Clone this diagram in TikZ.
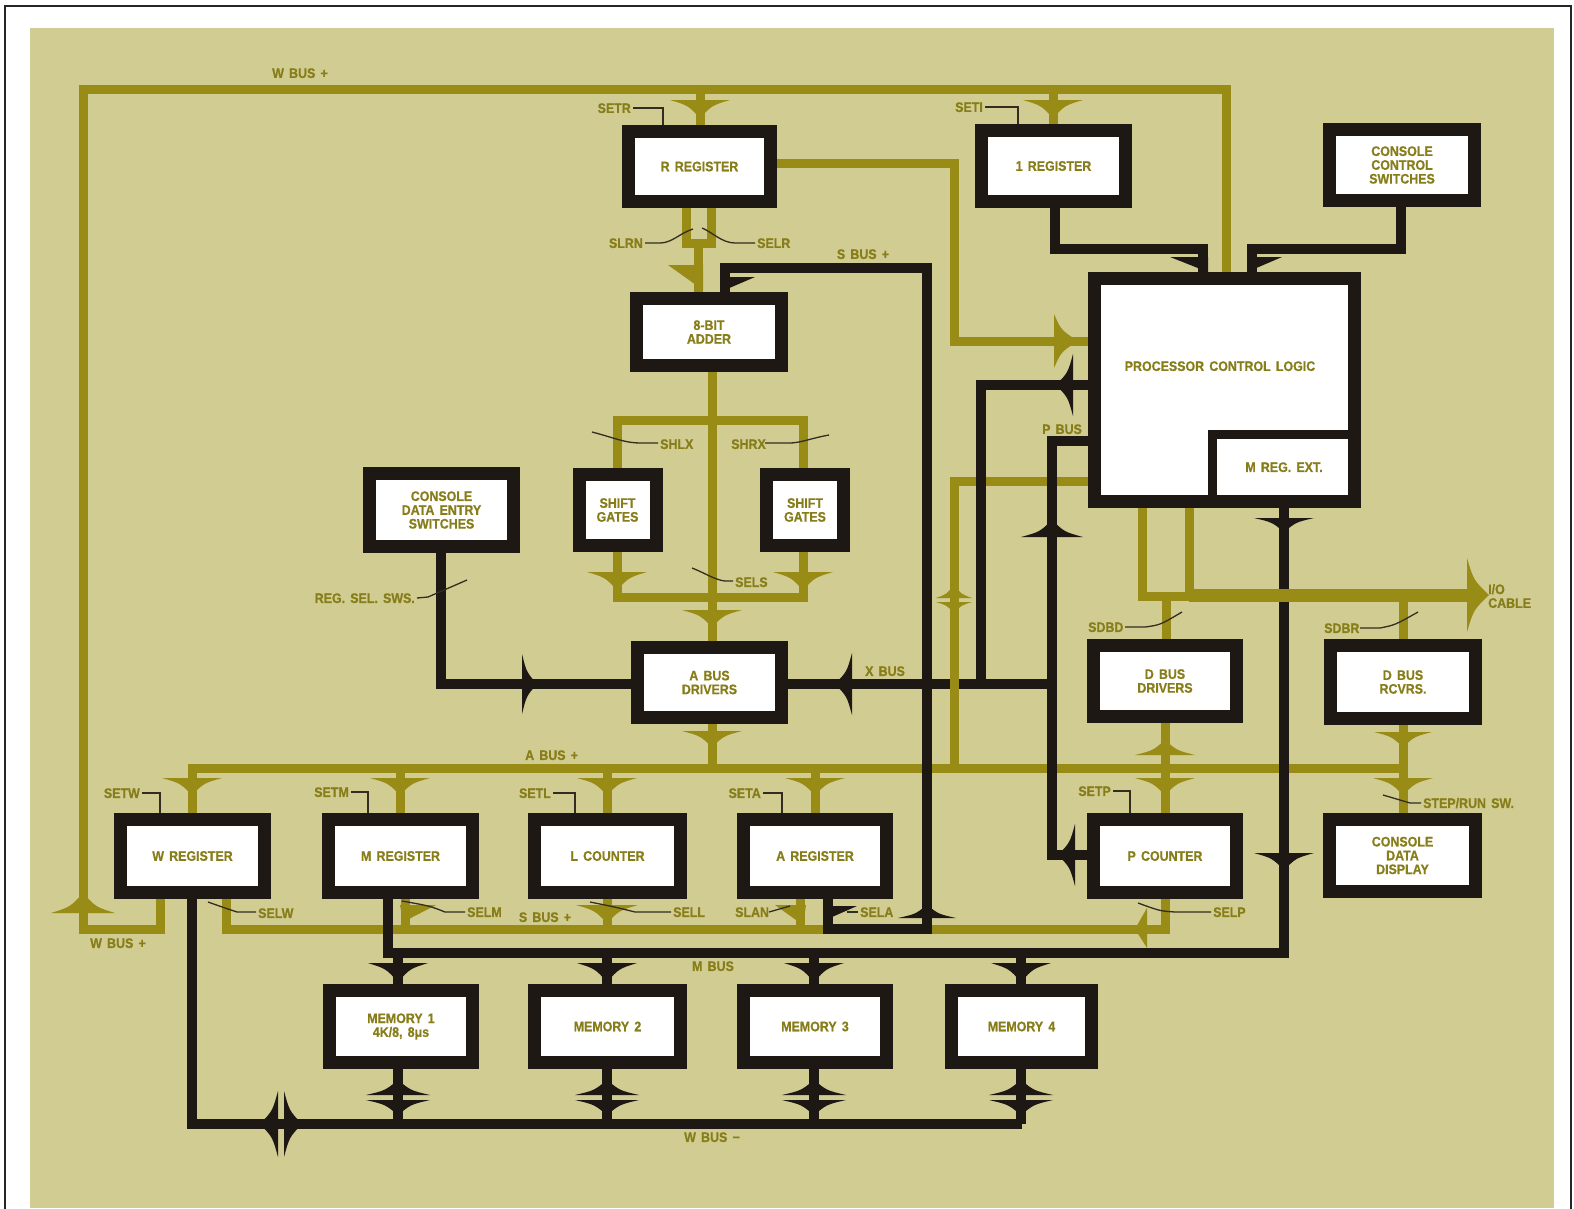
\documentclass[tikz,border=0pt]{standalone}
\usepackage{fontspec}
\setmainfont{Liberation Sans}[FakeStretch=0.9,WordSpace=1.5,FakeBold=0.6]
\definecolor{bgk}{RGB}{209,204,146}
\definecolor{olv}{RGB}{152,140,22}
\definecolor{txt}{RGB}{135,125,25}
\definecolor{blk}{RGB}{30,24,20}
\definecolor{thn}{RGB}{50,45,30}
\newcommand\lf{\bfseries\fontsize{13.8}{13.8}\selectfont}
% arrowheads: colour, x, y (tip), half width, length
\newcommand\adown[5]{\fill[#1] (#2-#4,#3-#5) .. controls (#2-0.4*#4,#3-0.7*#5) .. (#2,#3) .. controls (#2+0.4*#4,#3-0.7*#5) .. (#2+#4,#3-#5) -- cycle;}
\newcommand\aup[5]{\fill[#1] (#2-#4,#3+#5) .. controls (#2-0.4*#4,#3+0.7*#5) .. (#2,#3) .. controls (#2+0.4*#4,#3+0.7*#5) .. (#2+#4,#3+#5) -- cycle;}
\newcommand\aright[5]{\fill[#1] (#2-#5,#3-#4) .. controls (#2-0.7*#5,#3-0.4*#4) .. (#2,#3) .. controls (#2-0.7*#5,#3+0.4*#4) .. (#2-#5,#3+#4) -- cycle;}
\newcommand\aleft[5]{\fill[#1] (#2+#5,#3-#4) .. controls (#2+0.7*#5,#3-0.4*#4) .. (#2,#3) .. controls (#2+0.7*#5,#3+0.4*#4) .. (#2+#5,#3+#4) -- cycle;}
\tikzset{
  ob/.style={draw=olv, line width=9pt, line join=miter},
  bb/.style={draw=blk, line width=10pt, line join=miter},
  tl/.style={draw=thn, line width=1.3pt},
  lab/.style={text=txt, font=\lf, inner sep=0pt, text height=9.9pt, text depth=0pt},
  blkbox/.style={draw=blk, line width=13pt, fill=white, text=txt, font=\lf, align=center, inner sep=0pt},
}
\begin{document}
\begin{tikzpicture}[x=1pt,y=-1pt]
\useasboundingbox (0,0) rectangle (1574,1208);
\fill[white] (0,0) rectangle (1574,1208);
\draw[line width=1.6pt, black!85] (5,1230) -- (5,6) -- (1571,6) -- (1571,1230);
\fill[bgk] (30,28) rectangle (1554,1208);

% ---------------- olive buses
\draw[ob] (160,899) -- (160,929) -- (83,929) -- (83,89) -- (1226,89) -- (1226,272);
\draw[ob] (700,89) -- (700,125);
\draw[ob] (1053,89) -- (1053,124);
\draw[ob] (777,163) -- (954,163) -- (954,341) -- (1088,341);
\draw[ob] (686,208) -- (686,243) -- (711,243) -- (711,208);
\draw[ob] (698,243) -- (698,292);
\draw[ob] (712,372) -- (712,641);
\draw[ob] (617,420) rectangle (803,597);
\draw[ob] (712,724) -- (712,768);
\draw[ob] (192,813) -- (192,768) -- (1403,768);
\foreach \x in {400,607,815} \draw[ob] (\x,768) -- (\x,813);
\draw[ob] (1165,723) -- (1165,813);
\draw[ob] (1403,725) -- (1403,813);
\draw[ob] (1088,481) -- (954,481) -- (954,768);
\draw[ob] (1142,508) -- (1142,596) -- (1189,596);
\draw[ob] (1189,508) -- (1189,596);
\draw[ob] (1166,596) -- (1166,639);
\draw[ob] (1403,596) -- (1403,639);
\draw[ob] (226,899) -- (226,929) -- (1165,929) -- (1165,899);
\foreach \x in {405,607,800} \draw[ob] (\x,899) -- (\x,929);

% ---------------- black buses
\draw[bb] (1055,208) -- (1055,249) -- (1203,249) -- (1203,272);
\draw[bb] (1401,207) -- (1401,249) -- (1252,249) -- (1252,272);
\draw[bb] (828,899) -- (828,929) -- (927,929) -- (927,268) -- (725,268) -- (725,292);
\draw[bb] (1088,385) -- (981,385) -- (981,684);
\draw[bb] (1052,684) -- (788,684);
\draw[bb] (1087,855) -- (1052,855) -- (1052,441) -- (1088,441);
\draw[bb] (441,553) -- (441,684) -- (631,684);
\draw[bb] (1284,508) -- (1284,953) -- (388,953) -- (388,899);
\foreach \x in {398,607,814,1021} \draw[bb] (\x,953) -- (\x,984);
\draw[bb] (192,899) -- (192,1124) -- (1022,1124);
\foreach \x in {398,607,814} \draw[bb] (\x,1069) -- (\x,1124);
\draw[bb] (1021,1069) -- (1021,1124);
\draw[ob] (954,675) -- (954,693);
\draw[olv, line width=13pt] (1189,595) -- (1470,595);

% ---------------- arrowheads
\adown{olv}{700}{118}{30}{18}
\adown{olv}{1053}{118}{30}{18}
\aup{olv}{83}{893}{32}{20}
\aright{olv}{1078}{341}{27}{24}
\fill[olv] (668,265) -- (703,265) -- (703,290) -- cycle;
\fill[blk] (720,277) -- (755,277) -- (720,292) -- cycle;
\adown{olv}{617}{590}{30}{18}
\adown{olv}{803}{590}{30}{18}
\adown{olv}{712}{627}{30}{17}
\adown{olv}{712}{747}{30}{16}
\foreach \x in {192,400,607,815,1165,1403} {\adown{olv}{\x}{795}{30}{17}}
\aup{olv}{1165}{740}{30}{15}
\adown{olv}{1403}{747}{29}{15}
\aup{olv}{954}{585}{18}{13}
\adown{olv}{954}{613}{18}{11}
\aright{olv}{1489}{595}{37}{22}
\adown{olv}{607}{923}{31}{18}
\fill[olv] (400,905) -- (436,905) -- (403,922) -- cycle;
\fill[olv] (775,905) -- (806,905) -- (803,925) -- cycle;
\fill[olv] (1147,908) -- (1147,948) -- (1135,929) -- cycle;
\fill[blk] (1170,257) -- (1208,257) -- (1208,272) -- cycle;
\fill[blk] (1247,257) -- (1282,257) -- (1247,272) -- cycle;
\fill[blk] (823,906) -- (857,906) -- (823,921) -- cycle;
\adown{blk}{1284}{532}{30}{14}
\adown{blk}{1284}{870}{30}{17}
\aup{blk}{1052}{520}{31}{17}
\aleft{blk}{1056}{385}{31}{17}
\aleft{blk}{835}{684}{31}{17}
\aright{blk}{537}{684}{30}{15}
\aleft{blk}{1058}{855}{31}{17}
\aup{blk}{927}{905}{29}{13}
\foreach \x in {398,607,814,1021} {\adown{blk}{\x}{982}{30}{19}\aup{blk}{\x}{1080}{32}{15}\adown{blk}{\x}{1115}{32}{15}}
\aleft{blk}{260}{1124}{33}{18}
\aright{blk}{302}{1124}{33}{18}

% ---------------- boxes
\node[blkbox, minimum width=142, minimum height=70] (rreg) at (699.5,166.5) {R REGISTER};
\node[blkbox, minimum width=144, minimum height=71] (ireg) at (1053.5,166) {1 REGISTER};
\node[blkbox, minimum width=145, minimum height=71] (ccs) at (1402,165) {CONSOLE\\CONTROL\\SWITCHES};
\node[blkbox, minimum width=145, minimum height=67] (adder) at (709,332) {8-BIT\\ADDER};
\node[blkbox, minimum width=260, minimum height=223] (pcl) at (1224.5,390) {};
\node[lab] (pcltext) at (1220,366) {PROCESSOR CONTROL LOGIC};
\draw[blk, line width=9pt, line join=miter] (1212.5,508) -- (1212.5,434.5) -- (1361,434.5);
\node[lab] (mrx) at (1284,467) {M REG. EXT.};
\node[blkbox, minimum width=77, minimum height=71] (shl) at (617.5,510) {SHIFT\\GATES};
\node[blkbox, minimum width=77, minimum height=71] (shr) at (805,510) {SHIFT\\GATES};
\node[blkbox, minimum width=144, minimum height=73] (cdes) at (441.5,510) {CONSOLE\\DATA ENTRY\\SWITCHES};
\node[blkbox, minimum width=144, minimum height=70] (abd) at (709.5,682.5) {A BUS\\DRIVERS};
\node[blkbox, minimum width=143, minimum height=71] (dbd) at (1165,681) {D BUS\\DRIVERS};
\node[blkbox, minimum width=145, minimum height=73] (dbr) at (1403,682) {D BUS\\RCVRS.};
\node[blkbox, minimum width=144, minimum height=73] (wreg) at (192.5,856) {W REGISTER};
\node[blkbox, minimum width=144, minimum height=73] (mreg) at (400.5,856) {M REGISTER};
\node[blkbox, minimum width=146, minimum height=73] (lctr) at (607.5,856) {L COUNTER};
\node[blkbox, minimum width=143, minimum height=73] (areg) at (815,856) {A REGISTER};
\node[blkbox, minimum width=143, minimum height=73] (pctr) at (1165,856) {P COUNTER};
\node[blkbox, minimum width=146, minimum height=72] (cdd) at (1402.5,855.5) {CONSOLE\\DATA\\DISPLAY};
\node[blkbox, minimum width=143, minimum height=72] (mem1) at (401,1026.5) {MEMORY 1\\4K/8, 8μs};
\node[blkbox, minimum width=146, minimum height=72] (mem2) at (607.5,1026.5) {MEMORY 2};
\node[blkbox, minimum width=143, minimum height=72] (mem3) at (815,1026.5) {MEMORY 3};
\node[blkbox, minimum width=140, minimum height=72] (mem4) at (1021.5,1026.5) {MEMORY 4};

% ---------------- thin leader lines
\draw[tl] (633,108) -- (663,108) -- (663,125);
\draw[tl] (985,107) -- (1018,107) -- (1018,124);
\draw[tl] (645,243) -- (660,243) .. controls (672,243) and (680,233) .. (693,229);
\draw[tl] (755,243) -- (735,243) .. controls (722,243) and (712,232) .. (702,228);
\draw[tl] (592,432) .. controls (615,438) and (625,443) .. (640,443) -- (658,443);
\draw[tl] (765,443) -- (790,443) .. controls (800,443) and (812,438) .. (829,435);
\draw[tl] (692,568) .. controls (705,573) and (715,580) .. (725,581) -- (733,581);
\draw[tl] (417,598) -- (428,597) -- (467,580);
\draw[tl] (142,793) -- (160,793) -- (160,813);
\draw[tl] (351,792) -- (368,792) -- (368,813);
\draw[tl] (553,793) -- (575,793) -- (575,813);
\draw[tl] (763,793) -- (782,793) -- (782,813);
\draw[tl] (1113,791) -- (1130,791) -- (1130,813);
\draw[tl] (1383,795) .. controls (1400,800) .. (1410,803) -- (1421,803);
\draw[tl] (208,902) .. controls (225,908) .. (237,912) -- (256,912);
\draw[tl] (402,901) .. controls (430,906) .. (445,912) -- (465,912);
\draw[tl] (590,902) .. controls (615,907) .. (635,912) -- (671,912);
\draw[tl] (769,912) -- (790,906);
\draw[tl] (847,912) -- (858,912);
\draw[tl] (1138,903) .. controls (1160,911) .. (1175,912) -- (1211,912);
\draw[tl] (1125,627) -- (1145,627) .. controls (1160,625) .. (1182,612);
\draw[tl] (1360,628) -- (1380,628) .. controls (1395,625) .. (1418,612);

% ---------------- labels
\node[lab] (l1) at (300,73) {W BUS +};
\node[lab] (l2) at (118,943) {W BUS +};
\node[lab, anchor=east] (l3) at (631,108) {SETR};
\node[lab, anchor=east] (l4) at (983,107) {SETI};
\node[lab, anchor=east] (l5) at (643,243) {SLRN};
\node[lab, anchor=west] (l6) at (757,243) {SELR};
\node[lab] (l7) at (863,254) {S BUS +};
\node[lab, anchor=west] (l8) at (660,444) {SHLX};
\node[lab, anchor=east] (l9) at (766,444) {SHRX};
\node[lab, anchor=west] (l10) at (735,582) {SELS};
\node[lab, anchor=east] (l11) at (415,598) {REG. SEL. SWS.};
\node[lab, anchor=west] (l12) at (865,671) {X BUS};
\node[lab, anchor=west] (l13) at (1042,429) {P BUS};
\node[lab, anchor=west] (l14) at (1088,627) {SDBD};
\node[lab, anchor=west] (l15) at (1324,628) {SDBR};
\node[text=txt, font=\lf, inner sep=0pt, align=left, anchor=west] (l16) at (1488,596) {I/O\\CABLE};
\node[lab, anchor=west] (l17) at (525,755) {A BUS +};
\node[lab, anchor=east] (l18) at (140,793) {SETW};
\node[lab, anchor=east] (l19) at (349,792) {SETM};
\node[lab, anchor=east] (l20) at (551,793) {SETL};
\node[lab, anchor=east] (l21) at (761,793) {SETA};
\node[lab, anchor=east] (l22) at (1111,791) {SETP};
\node[lab, anchor=west] (l23) at (1423,803) {STEP/RUN SW.};
\node[lab, anchor=west] (l24) at (258,913) {SELW};
\node[lab, anchor=west] (l25) at (467,912) {SELM};
\node[lab] (l26) at (545,917) {S BUS +};
\node[lab, anchor=west] (l27) at (673,912) {SELL};
\node[lab, anchor=west] (l28) at (735,912) {SLAN};
\node[lab, anchor=west] (l29) at (860,912) {SELA};
\node[lab, anchor=west] (l30) at (1213,912) {SELP};
\node[lab] (l31) at (713,966) {M BUS};
\node[lab] (l32) at (712,1137) {W BUS −};
\end{tikzpicture}
\end{document}
